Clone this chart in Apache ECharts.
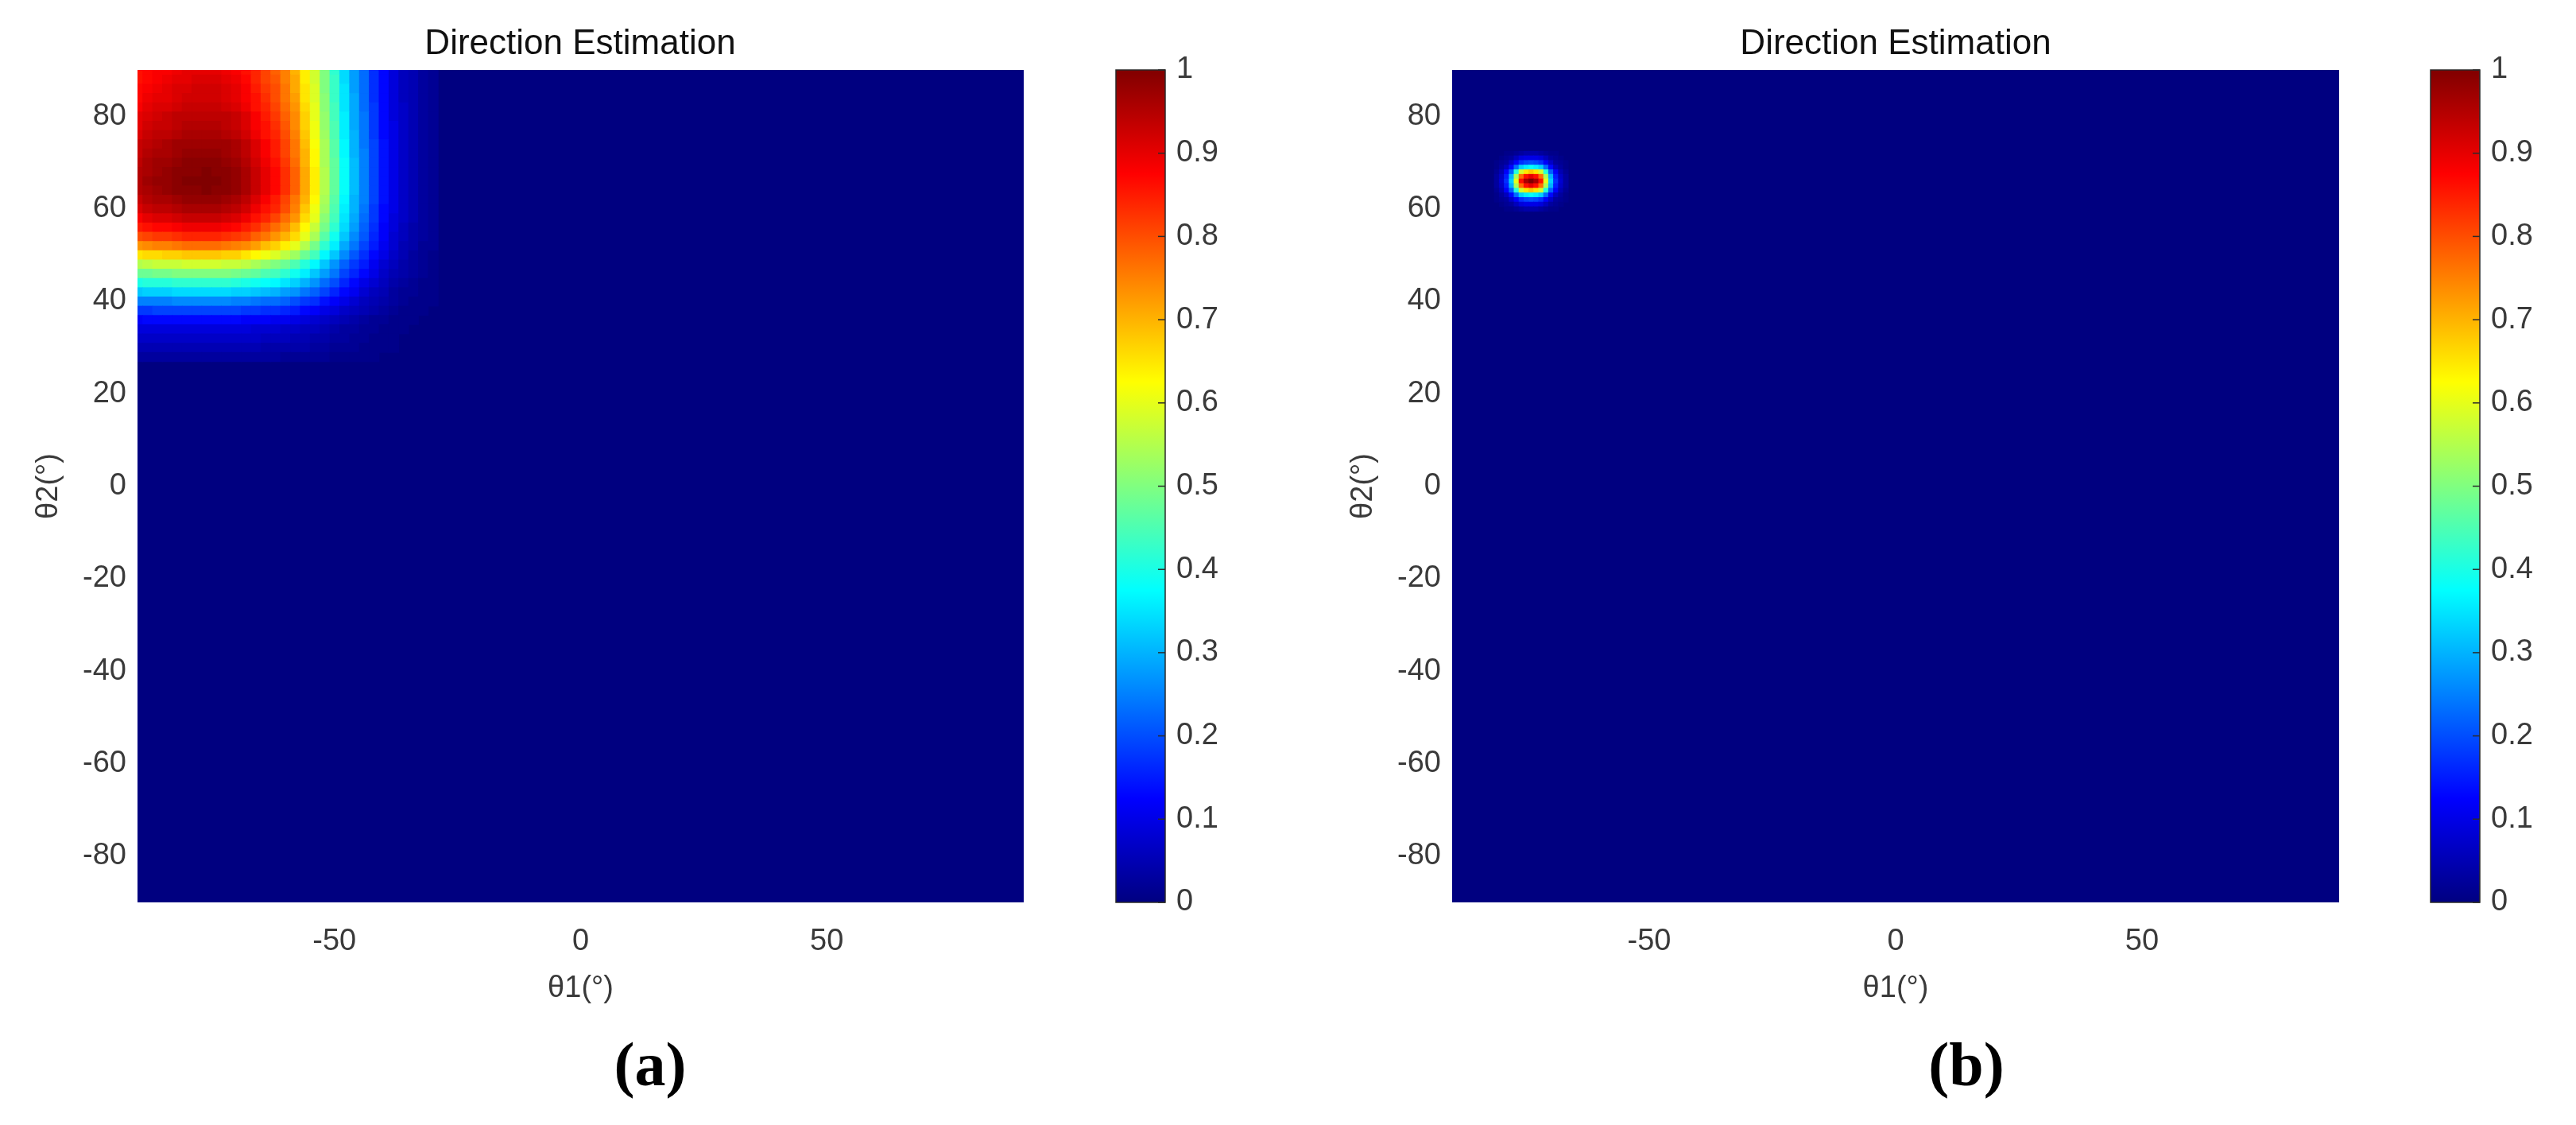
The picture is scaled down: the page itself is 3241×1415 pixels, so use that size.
<!DOCTYPE html>
<html>
<head>
<meta charset="utf-8">
<script src="https://cdn.jsdelivr.net/npm/echarts/dist/echarts.min.js"></script>
<style>
  html, body { margin: 0; padding: 0; background: #ffffff; }
  #chart { width: 3241px; height: 1415px; }
</style>
</head>
<body>
<div id="chart"></div>
<script>
// ---------------- DATA ----------------
// Panel (a): normalized spectrum sampled every 2 degrees (cells outside this block are 0)
const theta1A = [-90,-88,-86,-84,-82,-80,-78,-76,-74,-72,-70,-68,-66,-64,-62,-60,-58,-56,-54,-52,-50,-48,-46,-44,-42,-40,-38,-36,-34,-32,-30];
const theta2A = [90,88,86,84,82,80,78,76,74,72,70,68,66,64,62,60,58,56,54,52,50,48,46,44,42,40,38,36,34,32,30,28];
const gridStepA = 2;
const spectrumA = [
  [0.86,0.87,0.88,0.88,0.89,0.90,0.90,0.90,0.90,0.89,0.88,0.86,0.84,0.81,0.78,0.75,0.70,0.64,0.58,0.50,0.42,0.34,0.28,0.23,0.17,0.13,0.09,0.06,0.05,0.03,0.02],
  [0.86,0.87,0.88,0.89,0.90,0.90,0.91,0.91,0.91,0.90,0.89,0.87,0.84,0.81,0.79,0.75,0.71,0.64,0.58,0.50,0.43,0.34,0.28,0.23,0.17,0.13,0.09,0.06,0.05,0.03,0.02],
  [0.87,0.88,0.89,0.90,0.91,0.91,0.92,0.92,0.92,0.91,0.90,0.88,0.85,0.82,0.80,0.76,0.71,0.65,0.59,0.50,0.43,0.35,0.28,0.23,0.17,0.13,0.09,0.06,0.05,0.03,0.02],
  [0.87,0.89,0.90,0.90,0.91,0.92,0.92,0.92,0.92,0.91,0.90,0.88,0.86,0.83,0.80,0.76,0.72,0.65,0.59,0.51,0.43,0.35,0.29,0.23,0.17,0.13,0.09,0.06,0.05,0.03,0.02],
  [0.88,0.90,0.91,0.91,0.92,0.93,0.93,0.93,0.93,0.92,0.91,0.89,0.86,0.84,0.81,0.77,0.73,0.66,0.60,0.51,0.44,0.35,0.29,0.23,0.18,0.13,0.09,0.07,0.05,0.03,0.02],
  [0.90,0.91,0.92,0.93,0.94,0.94,0.94,0.94,0.94,0.94,0.93,0.91,0.88,0.85,0.82,0.78,0.74,0.67,0.60,0.52,0.44,0.36,0.29,0.24,0.18,0.13,0.09,0.07,0.05,0.03,0.02],
  [0.90,0.92,0.93,0.93,0.94,0.95,0.95,0.95,0.95,0.94,0.93,0.91,0.88,0.86,0.83,0.79,0.74,0.67,0.61,0.52,0.45,0.36,0.29,0.24,0.18,0.13,0.10,0.07,0.05,0.03,0.02],
  [0.91,0.93,0.94,0.94,0.95,0.96,0.96,0.96,0.96,0.95,0.94,0.92,0.89,0.86,0.84,0.80,0.75,0.68,0.61,0.53,0.45,0.36,0.30,0.24,0.18,0.13,0.10,0.07,0.05,0.03,0.02],
  [0.93,0.94,0.95,0.96,0.97,0.97,0.97,0.97,0.97,0.97,0.96,0.94,0.91,0.88,0.85,0.81,0.76,0.69,0.62,0.54,0.46,0.37,0.30,0.24,0.19,0.14,0.10,0.07,0.05,0.03,0.02],
  [0.93,0.95,0.96,0.96,0.97,0.98,0.98,0.98,0.98,0.97,0.96,0.94,0.91,0.88,0.85,0.81,0.76,0.70,0.63,0.54,0.46,0.37,0.30,0.25,0.19,0.14,0.10,0.07,0.05,0.03,0.02],
  [0.94,0.96,0.97,0.97,0.98,0.99,0.99,0.99,0.99,0.98,0.97,0.95,0.92,0.89,0.86,0.82,0.77,0.70,0.63,0.54,0.47,0.38,0.31,0.25,0.19,0.14,0.10,0.07,0.05,0.03,0.02],
  [0.95,0.96,0.97,0.98,0.99,0.99,0.99,1.00,0.99,0.99,0.98,0.96,0.93,0.90,0.87,0.83,0.78,0.71,0.64,0.55,0.47,0.38,0.31,0.25,0.19,0.14,0.10,0.07,0.05,0.03,0.02],
  [0.95,0.97,0.98,0.98,0.99,1.00,1.00,1.00,1.00,0.99,0.98,0.96,0.93,0.90,0.87,0.83,0.78,0.71,0.64,0.55,0.47,0.38,0.31,0.25,0.19,0.14,0.10,0.07,0.05,0.03,0.02],
  [0.95,0.96,0.97,0.98,0.99,0.99,0.99,1.00,0.99,0.99,0.98,0.96,0.93,0.90,0.87,0.83,0.78,0.71,0.64,0.55,0.47,0.38,0.31,0.25,0.19,0.14,0.10,0.07,0.05,0.03,0.02],
  [0.93,0.95,0.96,0.96,0.97,0.98,0.98,0.98,0.98,0.97,0.96,0.94,0.91,0.88,0.85,0.81,0.76,0.70,0.63,0.54,0.46,0.37,0.30,0.25,0.19,0.14,0.10,0.07,0.05,0.03,0.02],
  [0.91,0.93,0.94,0.94,0.95,0.96,0.96,0.96,0.96,0.95,0.94,0.92,0.89,0.86,0.84,0.80,0.75,0.68,0.61,0.53,0.45,0.36,0.30,0.24,0.18,0.13,0.10,0.07,0.05,0.03,0.02],
  [0.88,0.90,0.91,0.91,0.92,0.93,0.93,0.93,0.93,0.92,0.91,0.89,0.86,0.84,0.81,0.77,0.73,0.66,0.60,0.51,0.44,0.35,0.29,0.23,0.18,0.13,0.09,0.07,0.05,0.03,0.02],
  [0.85,0.86,0.87,0.87,0.88,0.89,0.89,0.89,0.89,0.88,0.87,0.85,0.83,0.80,0.77,0.74,0.69,0.63,0.57,0.49,0.42,0.34,0.28,0.22,0.17,0.12,0.09,0.06,0.04,0.03,0.02],
  [0.80,0.81,0.82,0.82,0.83,0.84,0.84,0.84,0.84,0.83,0.82,0.81,0.78,0.76,0.73,0.70,0.66,0.60,0.54,0.46,0.39,0.32,0.26,0.21,0.16,0.12,0.08,0.06,0.04,0.03,0.02],
  [0.73,0.74,0.75,0.75,0.76,0.77,0.77,0.77,0.77,0.76,0.75,0.74,0.72,0.69,0.67,0.64,0.60,0.55,0.49,0.42,0.36,0.29,0.24,0.19,0.15,0.11,0.08,0.05,0.04,0.02,0.02],
  [0.65,0.66,0.66,0.67,0.67,0.68,0.68,0.68,0.68,0.67,0.67,0.65,0.63,0.61,0.59,0.56,0.53,0.48,0.44,0.37,0.32,0.26,0.21,0.17,0.13,0.10,0.07,0.05,0.03,0.02,0.01],
  [0.55,0.56,0.57,0.57,0.57,0.58,0.58,0.58,0.58,0.57,0.57,0.56,0.54,0.52,0.50,0.48,0.45,0.41,0.37,0.32,0.27,0.22,0.18,0.15,0.11,0.08,0.06,0.04,0.03,0.02,0.01],
  [0.48,0.48,0.49,0.49,0.50,0.50,0.50,0.50,0.50,0.50,0.49,0.48,0.47,0.45,0.44,0.42,0.39,0.36,0.32,0.28,0.24,0.19,0.16,0.13,0.10,0.07,0.05,0.04,0.03,0.02,0.01],
  [0.40,0.41,0.41,0.41,0.42,0.42,0.42,0.42,0.42,0.42,0.41,0.40,0.39,0.38,0.37,0.35,0.33,0.30,0.27,0.23,0.20,0.16,0.13,0.10,0.08,0.06,0.04,0.03,0.02,0.01,0.01],
  [0.32,0.33,0.33,0.33,0.34,0.34,0.34,0.34,0.34,0.34,0.33,0.33,0.32,0.31,0.30,0.28,0.27,0.24,0.22,0.19,0.16,0.13,0.11,0.08,0.06,0.05,0.03,0.02,0.02,0.01,0.01],
  [0.25,0.25,0.25,0.25,0.26,0.26,0.26,0.26,0.26,0.26,0.25,0.25,0.24,0.23,0.23,0.22,0.20,0.18,0.17,0.14,0.12,0.10,0.08,0.06,0.05,0.04,0.03,0.02,0.01,0.01,0.01],
  [0.18,0.18,0.19,0.19,0.19,0.19,0.19,0.19,0.19,0.19,0.19,0.18,0.18,0.17,0.17,0.16,0.15,0.13,0.12,0.10,0.09,0.07,0.06,0.05,0.04,0.03,0.02,0.01,0.01,0.01,0.00],
  [0.12,0.13,0.13,0.13,0.13,0.13,0.13,0.13,0.13,0.13,0.13,0.12,0.12,0.12,0.11,0.11,0.10,0.09,0.08,0.07,0.06,0.05,0.04,0.03,0.02,0.02,0.01,0.01,0.01,0.00,0.00],
  [0.09,0.09,0.09,0.09,0.09,0.09,0.09,0.09,0.09,0.09,0.09,0.09,0.08,0.08,0.08,0.07,0.07,0.06,0.06,0.05,0.04,0.03,0.03,0.02,0.02,0.01,0.01,0.01,0.00,0.00,0.00],
  [0.07,0.07,0.07,0.07,0.07,0.07,0.07,0.07,0.07,0.07,0.07,0.07,0.07,0.06,0.06,0.06,0.05,0.05,0.04,0.04,0.03,0.03,0.02,0.02,0.01,0.01,0.01,0.00,0.00,0.00,0.00],
  [0.05,0.05,0.05,0.05,0.05,0.05,0.05,0.05,0.05,0.05,0.05,0.05,0.05,0.04,0.04,0.04,0.04,0.04,0.03,0.03,0.02,0.02,0.02,0.01,0.01,0.01,0.01,0.00,0.00,0.00,0.00],
  [0.03,0.03,0.03,0.03,0.03,0.03,0.03,0.03,0.03,0.03,0.03,0.03,0.03,0.03,0.03,0.02,0.02,0.02,0.02,0.02,0.01,0.01,0.01,0.01,0.01,0.00,0.00,0.00,0.00,0.00,0.00]
];

// Panel (b): sharp peak sampled every 1 degree (cells outside this block are 0)
const theta1B = [-81,-80,-79,-78,-77,-76,-75,-74,-73,-72,-71,-70,-69,-68,-67];
const theta2B = [72,71,70,69,68,67,66,65,64,63,62,61,60];
const gridStepB = 1;
const spectrumB = [
  [0.00,0.00,0.01,0.01,0.02,0.03,0.04,0.04,0.04,0.03,0.02,0.01,0.01,0.00,0.00],
  [0.00,0.01,0.02,0.03,0.06,0.09,0.10,0.10,0.10,0.09,0.06,0.03,0.02,0.01,0.00],
  [0.01,0.02,0.03,0.07,0.12,0.17,0.19,0.20,0.19,0.17,0.12,0.07,0.03,0.02,0.01],
  [0.01,0.03,0.06,0.13,0.23,0.33,0.36,0.38,0.36,0.33,0.23,0.13,0.06,0.03,0.01],
  [0.02,0.05,0.12,0.22,0.41,0.58,0.65,0.68,0.65,0.58,0.41,0.22,0.12,0.05,0.02],
  [0.03,0.07,0.15,0.30,0.54,0.77,0.86,0.90,0.86,0.77,0.54,0.30,0.15,0.07,0.03],
  [0.03,0.08,0.17,0.33,0.60,0.86,0.96,1.00,0.96,0.86,0.60,0.33,0.17,0.08,0.03],
  [0.03,0.07,0.15,0.30,0.54,0.77,0.86,0.90,0.86,0.77,0.54,0.30,0.15,0.07,0.03],
  [0.02,0.05,0.12,0.22,0.41,0.58,0.65,0.68,0.65,0.58,0.41,0.22,0.12,0.05,0.02],
  [0.01,0.03,0.06,0.13,0.23,0.33,0.36,0.38,0.36,0.33,0.23,0.13,0.06,0.03,0.01],
  [0.01,0.02,0.03,0.07,0.12,0.17,0.19,0.20,0.19,0.17,0.12,0.07,0.03,0.02,0.01],
  [0.00,0.01,0.02,0.03,0.06,0.09,0.10,0.10,0.10,0.09,0.06,0.03,0.02,0.01,0.00],
  [0.00,0.00,0.01,0.01,0.02,0.03,0.04,0.04,0.04,0.03,0.02,0.01,0.01,0.00,0.00]
];

const axisRange = [-90, 90];
const xTickValues = [-50, 0, 50];
const yTickValues = [-80, -60, -40, -20, 0, 20, 40, 60, 80];
const colorbarRange = [0, 1];
const colorbarTicks = [0, 0.1, 0.2, 0.3, 0.4, 0.5, 0.6, 0.7, 0.8, 0.9, 1];
const panelTitles = ['Direction Estimation', 'Direction Estimation'];
const panelLabels = ['(a)', '(b)'];
const xAxisName = 'θ1(°)';
const yAxisName = 'θ2(°)';

// jet colormap, evenly spaced stops 0, 1/8, ..., 1
const jetColors = ['#000080','#0000ff','#0080ff','#00ffff','#80ff80','#ffff00','#ff8000','#ff0000','#800000'];

// ---------------- BUILD ----------------
function toCells(t1, t2, m) {
  const out = [];
  for (let i = 0; i < t2.length; i++) {
    for (let j = 0; j < t1.length; j++) {
      if (m[i][j] > 0) out.push([t1[j], t2[i], m[i][j]]);
    }
  }
  return out;
}
const cellsA = toCells(theta1A, theta2A, spectrumA);
const cellsB = toCells(theta1B, theta2B, spectrumB);

function cellRenderer(step) {
  return function (params, api) {
    const x = api.value(0), y = api.value(1);
    const p0 = api.coord([x - step / 2, y + step / 2]);
    const p1 = api.coord([x + step / 2, y - step / 2]);
    return {
      type: 'rect',
      shape: { x: p0[0], y: p0[1], width: p1[0] - p0[0] + 0.8, height: p1[1] - p0[1] + 0.8 },
      style: { fill: api.visual('color') }
    };
  };
}

function colorbarRenderer(params, api) {
  const lo = api.value(0), hi = api.value(1);
  const p0 = api.coord([0, hi]);
  const p1 = api.coord([1, lo]);
  const children = [{
    type: 'rect',
    shape: { x: p0[0], y: p0[1], width: p1[0] - p0[0], height: p1[1] - p0[1] },
    style: {
      fill: {
        type: 'linear', x: 0, y: 1, x2: 0, y2: 0,
        colorStops: jetColors.map((c, i) => ({ offset: i / (jetColors.length - 1), color: c }))
      },
      stroke: '#2a2a2a', lineWidth: 1.5
    }
  }];
  colorbarTicks.forEach(t => {
    const p = api.coord([1, t]);
    children.push({
      type: 'line',
      shape: { x1: p[0] - 9, y1: p[1], x2: p[0], y2: p[1] },
      style: { stroke: '#2a2a2a', lineWidth: 1.5 }
    });
  });
  return { type: 'group', children };
}

const FONT = "'Liberation Sans', Arial, Helvetica, sans-serif";
const TICK_COLOR = '#3a3a3a';
const TICK_SIZE = 38;

function mainXAxis(gi) {
  return {
    type: 'value', gridIndex: gi, min: axisRange[0], max: axisRange[1],
    axisLine: { show: false, onZero: false }, axisTick: { show: false }, splitLine: { show: false },
    axisLabel: { customValues: xTickValues, margin: 31, fontSize: TICK_SIZE, color: TICK_COLOR, fontFamily: FONT },
    name: xAxisName, nameLocation: 'middle', nameGap: 90,
    nameTextStyle: { fontSize: TICK_SIZE, color: TICK_COLOR, fontFamily: FONT }
  };
}
function mainYAxis(gi) {
  return {
    type: 'value', gridIndex: gi, min: axisRange[0], max: axisRange[1],
    axisLine: { show: false, onZero: false }, axisTick: { show: false }, splitLine: { show: false },
    axisLabel: { customValues: yTickValues, margin: 14, fontSize: TICK_SIZE, color: TICK_COLOR, fontFamily: FONT },
    name: yAxisName, nameLocation: 'middle', nameGap: 92,
    nameTextStyle: { fontSize: TICK_SIZE, color: TICK_COLOR, fontFamily: FONT }
  };
}
function cbXAxis(gi) {
  return { type: 'value', gridIndex: gi, min: 0, max: 1, show: false };
}
function cbYAxis(gi) {
  return {
    type: 'value', gridIndex: gi, min: colorbarRange[0], max: colorbarRange[1], position: 'right',
    axisLine: { show: false, onZero: false },
    axisTick: { show: false },
    splitLine: { show: false },
    axisLabel: { customValues: colorbarTicks, margin: 14, fontSize: TICK_SIZE, color: TICK_COLOR, fontFamily: FONT,
                 formatter: v => String(Math.round(v * 10) / 10) }
  };
}

const titleStyle = { fontSize: 44, fontWeight: 'normal', color: '#111111', fontFamily: FONT };
const labelStyle = { fontSize: 78, fontWeight: 'bold', color: '#000000', fontFamily: "'Liberation Serif', 'Times New Roman', serif" };

const option = {
  backgroundColor: '#ffffff',
  animation: false,
  title: [
    { text: panelTitles[0], left: 730, top: 34, textAlign: 'center', padding: 0, textStyle: titleStyle },
    { text: panelTitles[1], left: 2385, top: 34, textAlign: 'center', padding: 0, textStyle: titleStyle },
    { text: panelLabels[0], left: 818, top: 1306, textAlign: 'center', padding: 0, textStyle: labelStyle },
    { text: panelLabels[1], left: 2474, top: 1306, textAlign: 'center', padding: 0, textStyle: labelStyle }
  ],
  grid: [
    { left: 173, top: 88, width: 1115, height: 1047, show: true, backgroundColor: jetColors[0], borderWidth: 0 },
    { left: 1827, top: 88, width: 1116, height: 1047, show: true, backgroundColor: jetColors[0], borderWidth: 0 },
    { left: 1404, top: 88, width: 62, height: 1047 },
    { left: 3058, top: 88, width: 62, height: 1047 }
  ],
  xAxis: [mainXAxis(0), mainXAxis(1), cbXAxis(2), cbXAxis(3)],
  yAxis: [mainYAxis(0), mainYAxis(1), cbYAxis(2), cbYAxis(3)],
  visualMap: {
    type: 'continuous', show: false, min: colorbarRange[0], max: colorbarRange[1],
    dimension: 2, seriesIndex: [0, 1], inRange: { color: jetColors }
  },
  series: [
    { type: 'custom', xAxisIndex: 0, yAxisIndex: 0, clip: true, renderItem: cellRenderer(gridStepA), data: cellsA },
    { type: 'custom', xAxisIndex: 1, yAxisIndex: 1, clip: true, renderItem: cellRenderer(gridStepB), data: cellsB },
    { type: 'custom', xAxisIndex: 2, yAxisIndex: 2, renderItem: colorbarRenderer, data: [colorbarRange] },
    { type: 'custom', xAxisIndex: 3, yAxisIndex: 3, renderItem: colorbarRenderer, data: [colorbarRange] }
  ]
};

const chart = echarts.init(document.getElementById('chart'), null, { renderer: 'canvas' });
chart.setOption(option);
</script>
</body>
</html>
